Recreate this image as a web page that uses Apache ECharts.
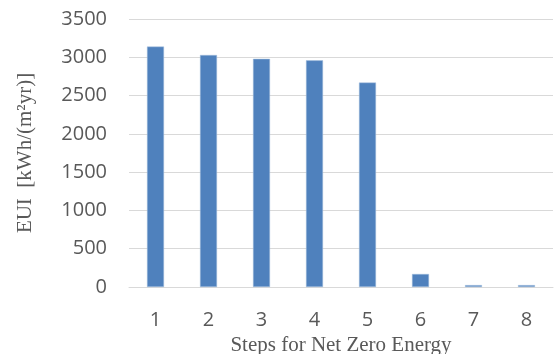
<!DOCTYPE html>
<html>
<head>
<meta charset="utf-8">
<script src="https://cdn.jsdelivr.net/npm/echarts@6/dist/echarts.min.js"></script>
<style>
  html, body { margin: 0; padding: 0; background: #fff; }
  #chart { width: 554px; height: 354px; }
</style>
</head>
<body>
<div id="chart"></div>
<script>
// data
const steps = ['1', '2', '3', '4', '5', '6', '7', '8']
const eui = [3140, 3030, 2980, 2960, 2670, 170, 25, 25]
const yTicks = { min: 0, max: 3500, interval: 500 }

const chart = echarts.init(document.getElementById('chart'))
chart.setOption({
  animation: false,
  grid: { left: 129, right: 1, top: 19, bottom: 67, outerBoundsMode: 'none' },
  xAxis: {
    type: 'category',
    data: steps,
    name: 'Steps for Net Zero Energy',
    nameLocation: 'middle',
    nameGap: 44,
    nameTextStyle: { fontFamily: 'Liberation Serif', fontSize: 21, color: '#595959' },
    axisLine: { lineStyle: { color: '#d9d9d9', width: 1 } },
    axisTick: { show: false },
    axisLabel: { fontFamily: 'Open Sans', fontSize: 20, color: '#595959', margin: 23 }
  },
  yAxis: {
    type: 'value',
    min: yTicks.min,
    max: yTicks.max,
    interval: yTicks.interval,
    name: 'EUI  [kWh/(m²yr)]',
    nameLocation: 'middle',
    nameGap: 93,
    nameTextStyle: { fontFamily: 'Liberation Serif', fontSize: 21, color: '#595959' },
    axisLine: { show: false },
    axisTick: { show: false },
    splitLine: { lineStyle: { color: '#d9d9d9', width: 1 } },
    axisLabel: {
      fontFamily: 'Open Sans', fontSize: 20, color: '#595959', margin: 22,
      formatter: v => String(v)
    }
  },
  series: [{
    type: 'bar',
    data: eui,
    barWidth: 17,
    itemStyle: { color: '#4f81bd', borderColor: '#a7c0de', borderWidth: 0.5 }
  }]
})
</script>
</body>
</html>
